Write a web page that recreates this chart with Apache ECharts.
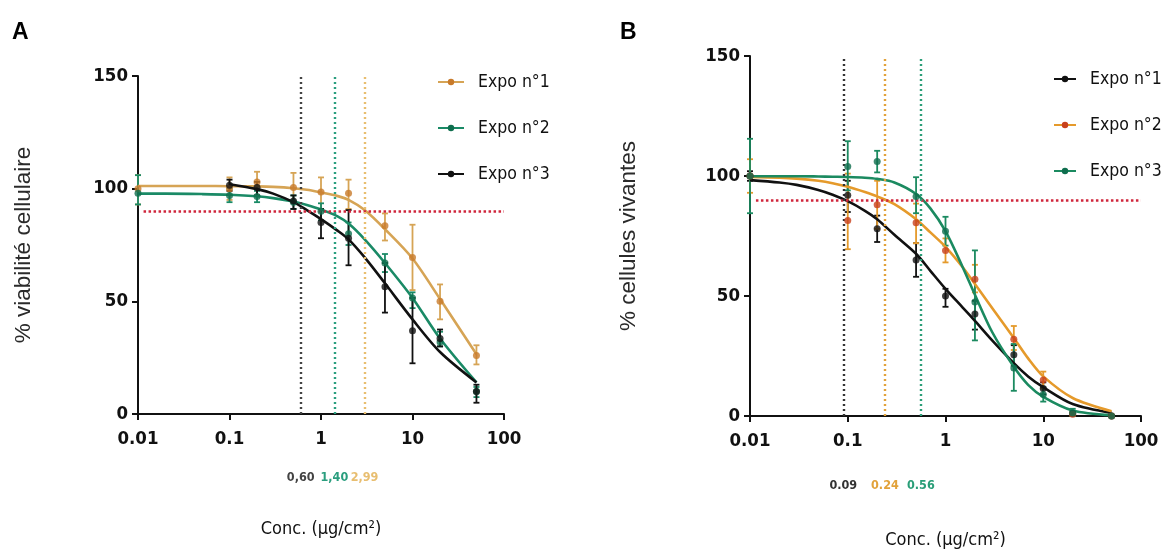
<!DOCTYPE html>
<html>
<head>
<meta charset="utf-8">
<script src="https://cdn.jsdelivr.net/npm/echarts@6/dist/echarts.min.js"></script>
<style>html,body{margin:0;padding:0;background:#fff;}#c{width:1169px;height:550px;}</style>
</head>
<body>
<div id="c"></div>
<script>
// ---------- data ----------
const xTicks = ['0.01', '0.1', '1', '10', '100'];
const yTicks = ['0', '50', '100', '150'];
const seriesNames = ['Expo n°1', 'Expo n°2', 'Expo n°3'];

// Panel A: measured points (mean, low, high of error bars)
const concA = [0.01, 0.1, 0.2, 0.5, 1, 2, 5, 10, 20, 50];
const a1Mean = [100, 100, 103, 100.5, 98.5, 98, 83.5, 69.5, 50, 26];
const a1Low  = [93, 95, 97, 94, 91, 91, 77, 55, 42, 22];
const a1High = [106, 105, 107.5, 107, 105, 104, 89, 84, 57.5, 30.5];
const a2Mean = [98, 97, 96.5, 94, 90, 80, 67, 51.5, 32, 10];
const a2Low  = [93, 94, 94, 91, 86, 75, 63, 47, 30, 7.5];
const a2High = [106, 100, 99, 97, 93.5, 85, 71, 54, 36.5, 12];
const concA3 = [0.1, 0.2, 0.5, 1, 2, 5, 10, 20, 50];
const a3Mean = [101.5, 100.5, 94.5, 85, 78, 56.5, 37, 33.5, 10];
const a3Low  = [99, 97, 91, 78, 66, 45, 22.5, 30, 5];
const a3High = [104, 103, 97, 91, 90.5, 67, 51.5, 37.5, 13];
// Panel A: fitted curves
const curveXA = [0.01, 0.02, 0.05, 0.1, 0.2, 0.3, 0.5, 0.7, 1, 1.5, 2, 3, 5, 10, 20, 50];
const a1Curve = [101.2, 101.2, 101.2, 101.1, 101, 100.8, 100.2, 99.5, 98.3, 96.8, 95, 90.5, 82, 69, 51, 26.5];
const a2Curve = [97.8, 97.8, 97.6, 97.3, 96.6, 95.8, 94.3, 92.8, 90.8, 87.8, 84.5, 77.5, 67, 51.5, 33.5, 14];
const a3Curve = [null, null, null, 102, 99.8, 97.8, 94, 90.5, 86.5, 81.5, 77.5, 69.5, 58, 42, 27.5, 14];
const ic50A = [0.60, 1.40, 2.99];
const ic50ALabels = ['0,60', '1,40', '2,99'];

// Panel B
const concB = [0.01, 0.1, 0.2, 0.5, 1, 2, 5, 10, 20, 50];
const b1Mean = [100, 92, 78, 65, 50, 42.5, 25.5, 11.5, 1, 0];
const b1Low  = [98, 85, 72.5, 58, 45.5, 36, 21, 9, 0, 0];
const b1High = [102, 98, 83.5, 72, 53, 48, 29.5, 14, 2, 0];
const b2Mean = [100, 81.5, 88, 80.5, 69, 57, 32, 15, 0.7, 0];
const b2Low  = [93, 69.5, 78, 72, 64, 51.5, 27.5, 11.5, 0, 0];
const b2High = [107, 101, 98, 88.5, 74, 63, 37.5, 18.5, 1.5, 0];
const b3Mean = [100, 104, 106, 91.5, 77, 47.5, 20, 9, 1.3, 0];
const b3Low  = [84.5, 94, 101.5, 84.5, 71, 31.5, 10.5, 6, 0, 0];
const b3High = [115.5, 114.5, 110.5, 99.5, 83, 69, 30, 12, 3, 0];
const curveXB = [0.01, 0.02, 0.03, 0.05, 0.07, 0.1, 0.15, 0.2, 0.3, 0.5, 0.7, 1, 1.5, 2, 3, 5, 7, 10, 20, 50];
const b1Curve = [98.3, 97.3, 96.3, 94.2, 92.2, 89.5, 85.5, 82, 75.5, 67.6, 60.5, 53, 45.2, 39.6, 31.5, 22, 16.5, 12, 5, 1.3];
const b2Curve = [99.6, 99.3, 98.9, 98, 97, 95.5, 93.3, 91.5, 88.3, 82, 76.5, 70.5, 62, 55, 45, 32.5, 24, 16.5, 7.5, 2];
const b3Curve = [99.9, 99.9, 99.9, 99.8, 99.7, 99.6, 99.3, 98.8, 97.3, 92.5, 86.5, 77, 62, 50.5, 35, 20.5, 13, 8, 2.3, 0.3];
const ic50B = [0.09, 0.24, 0.56];
const ic50BLabels = ['0.09', '0.24', '0.56'];
const cutoff = 90;

// ---------- styling ----------
const NARROW = "'Liberation Sans Narrow', 'Arial Narrow', 'DejaVu Sans Condensed', sans-serif";
const SANS = "'Liberation Sans', Arial, sans-serif";
const colA = ['#d6a455', '#1a8a66', '#111111'];
const dotA = ['#c87a2a', '#0f6e4e', '#111111'];
const vlineA = ['#444444', '#2a9e7e', '#e8be70'];
const colB = ['#111111', '#e59a2b', '#1b8a60'];
const dotB = ['#111111', '#c8401c', '#0f6e4e'];
const vlineB = ['#333333', '#e2a23a', '#2a9e78'];
const RED = '#d0263c';

function zip(xs, ys) { return xs.map((x, i) => [x, ys[i]]); }
function errData(xs, lo, hi) { return xs.map((x, i) => [x, lo[i], hi[i]]); }

function errSeries(name, gi, xs, lo, hi, color) {
  return {
    type: 'custom', name: name, xAxisIndex: gi, yAxisIndex: gi, silent: true, z: 3,
    data: errData(xs, lo, hi),
    encode: { x: 0, y: [1, 2] },
    renderItem: function (params, api) {
      const p1 = api.coord([api.value(0), api.value(1)]);
      const p2 = api.coord([api.value(0), api.value(2)]);
      const w = 3;
      const st = { stroke: color, lineWidth: 1.8 };
      return { type: 'group', children: [
        { type: 'line', shape: { x1: p1[0], y1: p1[1], x2: p2[0], y2: p2[1] }, style: st },
        { type: 'line', shape: { x1: p1[0] - w, y1: p1[1], x2: p1[0] + w, y2: p1[1] }, style: st },
        { type: 'line', shape: { x1: p2[0] - w, y1: p2[1], x2: p2[0] + w, y2: p2[1] }, style: st }
      ] };
    }
  };
}

function vMark(x, color, label, dist) {
  return [
    { coord: [x, 0], lineStyle: { color: color, type: [2, 3], width: 2.4 },
      label: { show: true, position: 'start', formatter: label, color: color,
               fontFamily: NARROW, fontWeight: 'bold', fontSize: 12.5, distance: dist } },
    { coord: [x, 150] }
  ];
}
function hMark() {
  return [
    { coord: [0.0115, cutoff], lineStyle: { color: RED, type: [2.5, 2.5], width: 2.5 }, label: { show: false } },
    { coord: [100, cutoff] }
  ];
}

function curveSeries(name, gi, xs, ys, color, dot, vx, vcol, vlab, dist, withRed) {
  const mk = [vMark(vx, vcol, vlab, dist)];
  if (withRed) mk.unshift(hMark());
  return {
    type: 'line', name: name, xAxisIndex: gi, yAxisIndex: gi, z: 4,
    data: zip(xs, ys), smooth: 0.3, showSymbol: false, symbol: 'circle', symbolSize: 6,
    lineStyle: { color: color, width: 2.6 }, itemStyle: { color: dot },
    markLine: { silent: true, symbol: 'none', animation: false, data: mk }
  };
}
function pointSeries(name, gi, xs, ys, dot) {
  return { type: 'scatter', name: name, xAxisIndex: gi, yAxisIndex: gi, z: 5,
    data: zip(xs, ys), symbol: 'circle', symbolSize: 7, itemStyle: { color: dot } };
}

const xAxisBase = (gi, gap) => ({
  type: 'log', logBase: 10, min: 0.01, max: 100, gridIndex: gi,
  axisLine: { lineStyle: { color: '#111', width: 2 } },
  axisTick: { show: true, length: 6, lineStyle: { color: '#111', width: 2 } },
  minorTick: { show: false }, splitLine: { show: false },
  axisLabel: { color: '#111', fontFamily: NARROW, fontWeight: 'bold', fontSize: 18.5, margin: 16,
               formatter: v => xTicks[Math.round(Math.log10(v)) + 2] },
  name: 'Conc. (µg/cm²)', nameLocation: 'middle', nameGap: gap,
  nameTextStyle: { color: '#111', fontFamily: NARROW, fontSize: 18 }
});
const yAxisBase = (gi, name, gap) => ({
  type: 'value', min: 0, max: 150, interval: 50, gridIndex: gi,
  axisLine: { show: true, lineStyle: { color: '#111', width: 2 } },
  axisTick: { show: true, length: 6, lineStyle: { color: '#111', width: 2 } },
  splitLine: { show: false },
  axisLabel: { color: '#111', fontFamily: NARROW, fontWeight: 'bold', fontSize: 18.5, margin: 10,
               formatter: (v) => yTicks[Math.round(v / 50)] },
  name: name, nameLocation: 'middle', nameGap: gap, nameRotate: 90,
  nameTextStyle: { color: '#2a2a2a', fontFamily: SANS, fontSize: 22.5 }
});

const nA = seriesNames.map(s => 'A|' + s);
const nB = seriesNames.map(s => 'B|' + s);

const series = [
  curveSeries(nA[0], 0, curveXA, a1Curve, colA[0], dotA[0], ic50A[2], vlineA[2], ic50ALabels[2], 57, true),
  curveSeries(nA[1], 0, curveXA, a2Curve, colA[1], dotA[1], ic50A[1], vlineA[1], ic50ALabels[1], 57, false),
  curveSeries(nA[2], 0, curveXA, a3Curve, colA[2], dotA[2], ic50A[0], vlineA[0], ic50ALabels[0], 57, false),
  errSeries(nA[0], 0, concA, a1Low, a1High, colA[0]),
  errSeries(nA[1], 0, concA, a2Low, a2High, colA[1]),
  errSeries(nA[2], 0, concA3, a3Low, a3High, colA[2]),
  pointSeries(nA[0], 0, concA, a1Mean, dotA[0]),
  pointSeries(nA[1], 0, concA, a2Mean, dotA[1]),
  pointSeries(nA[2], 0, concA3, a3Mean, dotA[2]),

  curveSeries(nB[0], 1, curveXB, b1Curve, colB[0], dotB[0], ic50B[0], vlineB[0], ic50BLabels[0], 63, true),
  curveSeries(nB[1], 1, curveXB, b2Curve, colB[1], dotB[1], ic50B[1], vlineB[1], ic50BLabels[1], 63, false),
  curveSeries(nB[2], 1, curveXB, b3Curve, colB[2], dotB[2], ic50B[2], vlineB[2], ic50BLabels[2], 63, false),
  errSeries(nB[0], 1, concB, b1Low, b1High, colB[0]),
  errSeries(nB[1], 1, concB, b2Low, b2High, colB[1]),
  errSeries(nB[2], 1, concB, b3Low, b3High, colB[2]),
  pointSeries(nB[0], 1, concB, b1Mean, dotB[0]),
  pointSeries(nB[1], 1, concB, b2Mean, dotB[1]),
  pointSeries(nB[2], 1, concB, b3Mean, dotB[2])
];

const legendBase = {
  orient: 'vertical', itemHeight: 8, itemGap: 28, padding: 0,
  selectedMode: false,
  formatter: n => n.split('|')[1],
  textStyle: { color: '#111', fontFamily: NARROW, fontSize: 17.5, padding: [0, 0, 0, 9] }
};

const chart = echarts.init(document.getElementById('c'), null, { renderer: 'canvas' });
chart.setOption({
  animation: false,
  backgroundColor: '#ffffff',
  grid: [
    { left: 138, right: 665, top: 76, bottom: 136, containLabel: false, outerBoundsMode: 'none' },
    { left: 750, right: 28, top: 56, bottom: 134, containLabel: false, outerBoundsMode: 'none' }
  ],
  xAxis: [xAxisBase(0, 106), xAxisBase(1, 115)],
  yAxis: [yAxisBase(0, '% viabilité cellulaire', 103), yAxisBase(1, '% cellules vivantes', 110)],
  legend: [
    Object.assign({}, legendBase, { left: 437, top: 73, itemWidth: 26, data: nA }),
    Object.assign({}, legendBase, { left: 1053, top: 70, itemWidth: 22, data: nB })
  ],
  graphic: [
    { type: 'text', left: 12, top: 21, style: { text: 'A', font: "bold 23px " + SANS, fill: '#000' } },
    { type: 'text', left: 620, top: 21, style: { text: 'B', font: "bold 23px " + SANS, fill: '#000' } }
  ],
  series: series
});
</script>
</body>
</html>
